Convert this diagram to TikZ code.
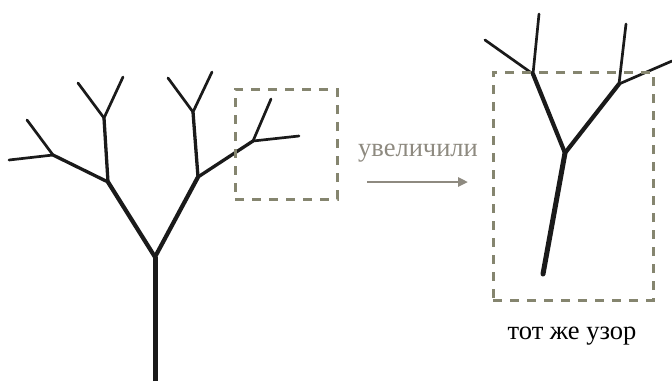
\documentclass[tikz,border=0pt]{standalone}
\usepackage{fontspec}
\setmainfont{Liberation Serif}
\usetikzlibrary{arrows.meta}
\definecolor{treeblack}{HTML}{1A1A1A}
\definecolor{boxgray}{HTML}{85856F}
\definecolor{labelgray}{HTML}{8E8A80}
\tikzset{
  lvlzero/.style={draw=treeblack,line width=5pt},
  lvlone/.style={draw=treeblack,line width=4.2pt,line cap=round},
  lvltwo/.style={draw=treeblack,line width=3.3pt,line cap=round},
  lvlthree/.style={draw=treeblack,line width=2.7pt,line cap=round},
  zoombox/.style={draw=boxgray,line width=3pt,dash pattern=on 9pt off 8pt},
  lbl/.style={inner sep=0pt,font=\fontsize{26.5}{30}\selectfont},
}
\begin{document}
\begin{tikzpicture}[x=1pt,y=-1pt]
\useasboundingbox (0,0) rectangle (672,381);
% left tree
\coordinate (base) at (155,381);
\coordinate (fork) at (155,257);
\coordinate (L) at (108,182);
\coordinate (R) at (198,177);
\coordinate (LU) at (104,118);
\coordinate (LL) at (53,155);
\coordinate (LUa) at (78,83);
\coordinate (LUb) at (123,77);
\coordinate (LLa) at (27,120);
\coordinate (LLb) at (9,160);
\coordinate (RU) at (193,112);
\coordinate (RR) at (253,141);
\coordinate (RUa) at (168,78);
\coordinate (RUb) at (212,72);
\coordinate (RRa) at (271,99);
\coordinate (RRb) at (299,136);
\draw[lvlzero] (base) -- (fork);
\draw[lvlone] (fork) -- (L);
\draw[lvlone] (fork) -- (R);
\draw[lvltwo] (L) -- (LU);
\draw[lvltwo] (L) -- (LL);
\draw[lvltwo] (R) -- (RU);
\draw[lvltwo] (R) -- (RR);
\draw[lvlthree] (LU) -- (LUa);
\draw[lvlthree] (LU) -- (LUb);
\draw[lvlthree] (LL) -- (LLa);
\draw[lvlthree] (LL) -- (LLb);
\draw[lvlthree] (RU) -- (RUa);
\draw[lvlthree] (RU) -- (RUb);
\draw[lvlthree] (RR) -- (RRa);
\draw[lvlthree] (RR) -- (RRb);
\node[zoombox,draw,inner sep=0pt,minimum width=102pt,minimum height=110pt] (smallbox) at (286,144) {};
% right (zoomed) tree
\coordinate (zbase) at (543,274);
\coordinate (zfork) at (565,153);
\coordinate (zL) at (533,74);
\coordinate (zR) at (619,84);
\coordinate (zLa) at (485,40);
\coordinate (zLb) at (539,14);
\coordinate (zRa) at (626,24);
\coordinate (zRb) at (672,61);
\draw[lvlzero,line cap=round] (zbase) -- (zfork);
\draw[lvlone] (zfork) -- (zL);
\draw[lvlone] (zfork) -- (zR);
\draw[lvlthree] (zL) -- (zLa);
\draw[lvlthree] (zL) -- (zLb);
\draw[lvlthree] (zR) -- (zRa);
\draw[lvlthree] (zR) -- (zRb);
\node[zoombox,draw,inner sep=0pt,minimum width=160pt,minimum height=228pt] (bigbox) at (573,186) {};
% label and arrow
\node[lbl,text=labelgray] (zoomtext) at (418,153) {увеличили};
\coordinate (arrowstart) at (367,182);
\coordinate (arrowend) at (468,182);
\draw[draw=labelgray,line width=2.6pt,-{Triangle[length=10pt,width=9pt]}] (arrowstart) -- (arrowend);
\node[lbl,text=black] (sametext) at (572,336) {тот же узор};
\end{tikzpicture}
\end{document}
